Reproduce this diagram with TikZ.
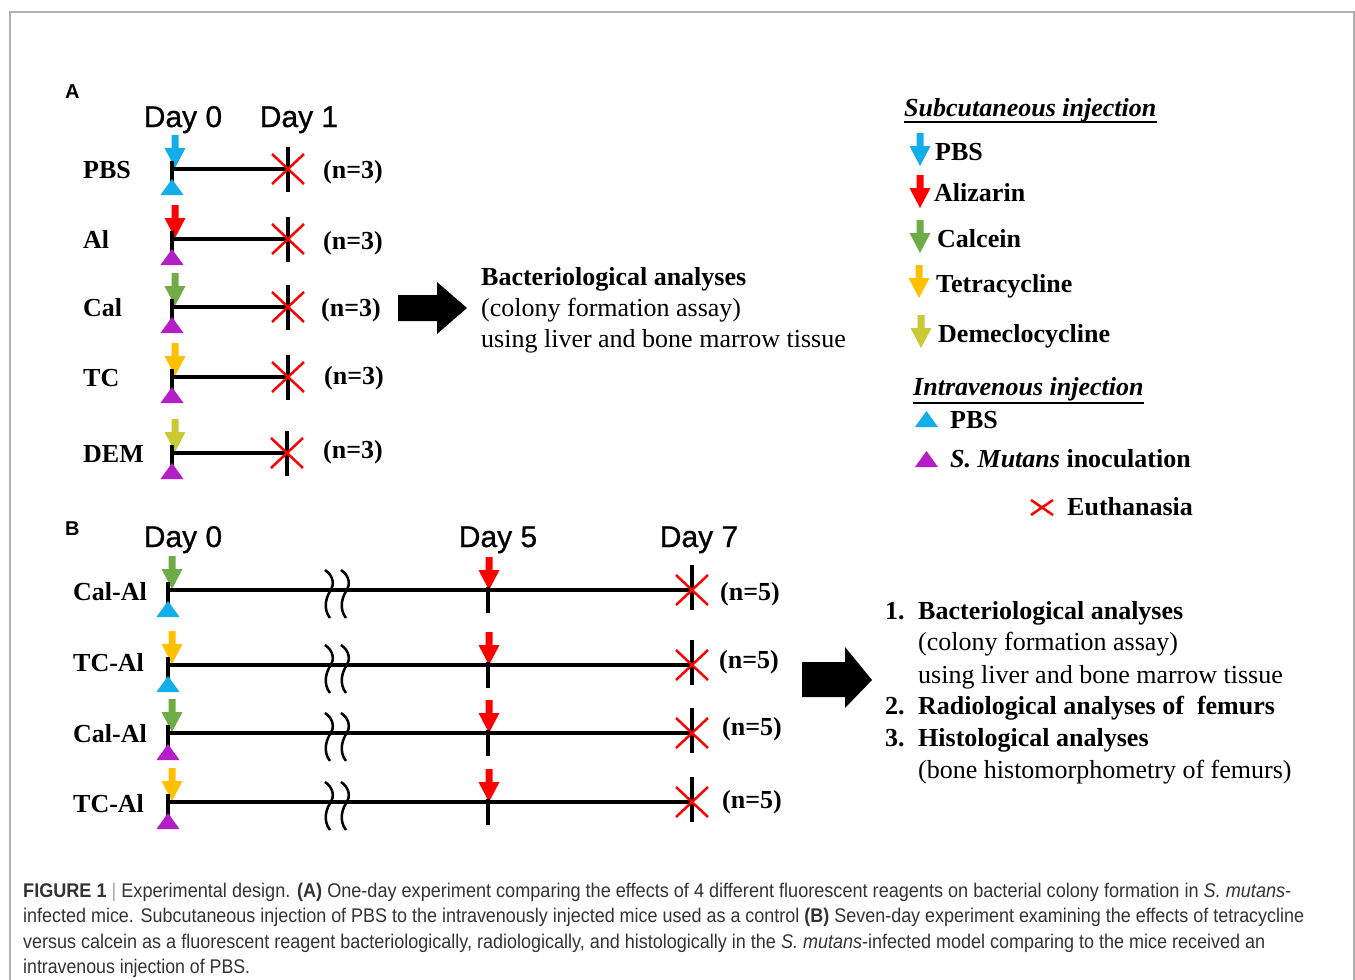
\documentclass[tikz,border=0pt]{standalone}
\usepackage{fontspec}
\usepackage{graphicx}
\setmainfont{Liberation Serif}
\newfontfamily\arialf{Liberation Sans}
\newfontfamily\arialday[FakeBold=0.8]{Liberation Sans}
\definecolor{cblue}{HTML}{12AEEA}
\definecolor{cred}{HTML}{FF0000}
\definecolor{cgreen}{HTML}{6FAC46}
\definecolor{corange}{HTML}{FFC000}
\definecolor{cyel}{HTML}{C9C934}
\definecolor{cmag}{HTML}{B41EC6}
\definecolor{capgray}{HTML}{333333}
\definecolor{framegray}{HTML}{B0B0B0}
\tikzset{
  tl/.style={line width=4pt, black},
  tickline/.style={line width=4pt, black},
  crossline/.style={cred, line width=2.5pt},
  brkline/.style={line width=2.5pt, black},
  lab/.style={font=\bfseries\fontsize{26}{30}\selectfont, inner sep=0pt, anchor=base west},
  txt/.style={font=\fontsize{26}{30}\selectfont, inner sep=0pt, anchor=base west},
  daylab/.style={font=\arialday\fontsize{30}{34}\selectfont, inner sep=0pt, anchor=base},
  panel/.style={font=\arialf\bfseries\fontsize{20}{22}\selectfont, inner sep=0pt, anchor=base west},
  captext/.style={font=\arialf\fontsize{18}{20}\selectfont, text=capgray, inner sep=0pt, anchor=base west},
  pics/darr/.style={code={\fill[#1] (-3.5,-33) -- (3.5,-33) -- (3.5,-20) -- (10.5,-20) -- (0,0) -- (-10.5,-20) -- (-3.5,-20) -- cycle;}},
  pics/tri/.style={code={\fill[#1] (-11.5,0) -- (11.5,0) -- (0,-16) -- cycle;}},
  pics/xmark/.style={code={\draw[crossline] (-16,-15) -- (16,15) (-16,15) -- (16,-15);}},
  pics/brk/.style={code={\draw[brkline] (-6,-20) .. controls (3,-14) and (3,-5) .. (0,0) .. controls (-4,5) and (-9,18) .. (-1,28);}},
}
\begin{document}
\begin{tikzpicture}[x=1pt,y=-1pt]
\useasboundingbox (0,0) rectangle (1355,980);
\clip (0,0) rectangle (1355,980);
\fill[white] (0,0) rectangle (1355,980);
\draw[framegray, line width=1.5pt] (10,12) rectangle (1354,1010);

% ---------------- Panel A ----------------
\node[panel] (pA) at (65,98) {A};
\node[daylab] (dA0) at (183,127) {Day 0};
\node[daylab] (dA1) at (299,127) {Day 1};

\foreach \i/\y/\lab/\acol/\tcol/\xe/\nx/\nb in {
  1/169/PBS/cblue/cblue/288/323/178,
  2/239/Al/cred/cmag/288/323/249,
  3/307/Cal/cgreen/cmag/288/321/316,
  4/377/TC/corange/cmag/288/324/384,
  5/453/DEM/cyel/cmag/287/323/458} {
  \node[lab] (la\i) at (83,\y+9) {\lab};
  \coordinate (sa\i) at (172,\y);
  \coordinate (ea\i) at (\xe,\y);
  \pic at (175,\y-1) {darr=\acol};
  \draw[tickline] ([yshift=8pt]sa\i) -- ([yshift=-18pt]sa\i);
  \draw[tl] (sa\i) -- (ea\i);
  \draw[tickline] ([yshift=22pt]ea\i) -- ([yshift=-23pt]ea\i);
  \pic at (172,\y+26) {tri=\tcol};
  \pic at (ea\i) {xmark};
  \node[lab] (na\i) at (\nx,\nb) {(n=3)};
}

\fill (398,295) -- (437,295) -- (437,282) -- (467,308) -- (437,334) -- (437,321) -- (398,321) -- cycle;
\node[lab] (ba1) at (481,285) {Bacteriological analyses};
\node[txt] (ba2) at (481,316) {(colony formation assay)};
\node[txt] (ba3) at (481,347) {using liver and bone marrow tissue};

% ---------------- Legend ----------------
\node[lab, font=\bfseries\itshape\fontsize{26}{30}\selectfont] (subc) at (904,116) {Subcutaneous injection};
\draw[line width=1.5pt] ([yshift=-6pt]subc.base west) -- ([yshift=-6pt]subc.base east);
\pic at (920,166) {darr=cblue};
\node[lab] (lg1) at (935,160) {PBS};
\pic at (920,208) {darr=cred};
\node[lab] (lg2) at (934,201) {Alizarin};
\pic at (920,253) {darr=cgreen};
\node[lab] (lg3) at (937,247) {Calcein};
\pic at (919,298) {darr=corange};
\node[lab] (lg4) at (936,292) {Tetracycline};
\pic at (921,348) {darr=cyel};
\node[lab] (lg5) at (938,342) {Demeclocycline};

\node[lab, font=\bfseries\itshape\fontsize{26}{30}\selectfont] (intr) at (913,395) {Intravenous injection};
\draw[line width=1.5pt] ([yshift=-8pt]intr.base west) -- ([yshift=-8pt]intr.base east);
\pic at (926.5,427) {tri=cblue};
\node[lab] (lg6) at (950,428) {PBS};
\pic at (926.5,467) {tri=cmag};
\node[lab] (lg7) at (950,467) {\textit{S. Mutans} inoculation};
\draw[crossline] (1031,500) -- (1053,515) (1031,515) -- (1053,500);
\node[lab] (lg8) at (1067,515) {Euthanasia};

% ---------------- Panel B ----------------
\node[panel] (pB) at (65,535) {B};
\node[daylab] (dB0) at (183,547) {Day 0};
\node[daylab] (dB5) at (498,547) {Day 5};
\node[daylab] (dB7) at (699,547) {Day 7};

\foreach \i/\y/\lab/\acol/\tcol/\nx/\nb/\lb in {
  1/590/Cal-Al/cgreen/cblue/720/600/600,
  2/665/TC-Al/corange/cblue/719/668/671,
  3/733/Cal-Al/cgreen/cmag/722/735/742,
  4/802/TC-Al/corange/cmag/722/808/812} {
  \node[lab] (lb\i) at (73,\lb) {\lab};
  \coordinate (sb\i) at (168,\y);
  \coordinate (mb\i) at (488,\y);
  \coordinate (eb\i) at (692,\y);
  \pic at (172,\y-1) {darr=\acol};
  \pic at (489,\y) {darr=cred};
  \draw[tickline] ([yshift=8pt]sb\i) -- ([yshift=-18pt]sb\i);
  \draw[tl] (sb\i) -- (eb\i);
  \draw[tickline] ([yshift=3pt]mb\i) -- ([yshift=-23pt]mb\i);
  \draw[tickline] ([yshift=25pt]eb\i) -- ([yshift=-20pt]eb\i);
  \pic at (168,\y+27) {tri=\tcol};
  \pic at (331,\y) {brk};
  \pic at (347,\y) {brk};
  \pic at (eb\i) {xmark};
  \node[lab] (nb\i) at (\nx,\nb) {(n=5)};
}

\fill (802,662) -- (845,662) -- (845,647) -- (872,680) -- (845,708) -- (845,697) -- (802,697) -- cycle;
\node[lab] (l1) at (885,619) {1.};
\node[lab] (t1) at (918,619) {Bacteriological analyses};
\node[txt] (t1b) at (918,650) {(colony formation assay)};
\node[txt] (t1c) at (918,683) {using liver and bone marrow tissue};
\node[lab] (l2) at (885,714) {2.};
\node[lab] (t2) at (918,714) {Radiological analyses of \ femurs};
\node[lab] (l3) at (885,746) {3.};
\node[lab] (t3) at (918,746) {Histological analyses};
\node[txt] (t3b) at (918,778) {(bone histomorphometry of femurs)};

% ---------------- Caption ----------------
\node[captext] (c1) at (23,897) {\resizebox{1268pt}{1.1\height}{\textbf{FIGURE 1} {\color{gray!70}|} Experimental design. \textbf{(A)} One-day experiment comparing the effects of 4 different fluorescent reagents on bacterial colony formation in \textit{S. mutans}-}};
\node[captext] (c2) at (23,922) {\resizebox{1281pt}{1.1\height}{infected mice. Subcutaneous injection of PBS to the intravenously injected mice used as a control \textbf{(B)} Seven-day experiment examining the effects of tetracycline}};
\node[captext] (c3) at (23,948) {\resizebox{1242pt}{1.1\height}{versus calcein as a fluorescent reagent bacteriologically, radiologically, and histologically in the \textit{S. mutans}-infected model comparing to the mice received an}};
\node[captext] (c4) at (23,973) {\resizebox{227pt}{1.1\height}{intravenous injection of PBS.}};
\end{tikzpicture}
\end{document}
